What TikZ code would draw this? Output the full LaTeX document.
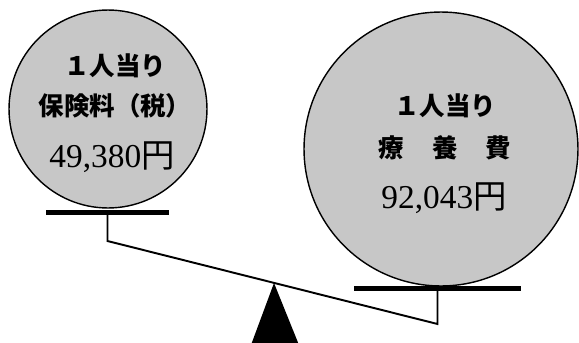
\documentclass[tikz,border=0pt]{standalone}
\usepackage{fontspec}
\setmainfont{Liberation Serif}
\newfontfamily\jpfont{Noto Sans CJK JP}

\begin{document}
\begin{tikzpicture}[x=0.02cm,y=-0.02cm,
  pan/.style={circle,draw,line width=0.8pt,fill=black!22,inner sep=0pt},
  plate/.style={fill=black,inner sep=0pt,minimum height=0.1cm},
  headtext/.style={font=\jpfont\bfseries\fontsize{14.5}{14.5}\selectfont},
  amount/.style={font=\fontsize{19}{19}\selectfont},
  beam/.style={line width=1.1pt}]
\useasboundingbox (0,0) rectangle (579,342);

\node (LP) at (108,109) [pan,minimum size=3.96cm] {};
\node (RP) at (441,149) [pan,minimum size=5.48cm] {};

\node (L1) at (115,66) [headtext] {１人当り};
\node (L2) at (115,106) [headtext] {保険料（税）};
\node (L3) at (112,157) [amount] {49,380{\jpfont 円}};
\node (R1) at (445,106) [headtext] {１人当り};
\node (R2) at (445,148) [headtext] {療\hspace{1.1em}養\hspace{1.1em}費};
\node (R3) at (444,198) [amount] {92,043{\jpfont 円}};

\node (LS) at (107.5,212) [plate,minimum width=2.46cm] {};
\node (RS) at (437.5,288) [plate,minimum width=3.34cm] {};
\coordinate (LE) at (107.5,241);
\coordinate (RE) at (437.5,324);
\draw [beam] (LS.south) -- (LE) -- (RE) -- (RS.south);

\coordinate (F) at (274,283);
\fill (F) -- (251,345) -- (299,345) -- cycle;

\end{tikzpicture}
\end{document}
